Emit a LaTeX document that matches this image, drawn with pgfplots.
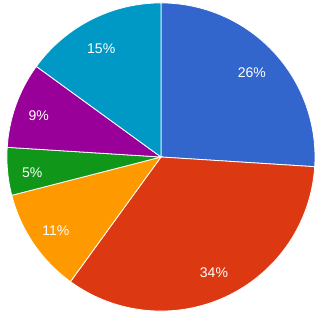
\documentclass[border=0pt]{standalone}
\usepackage{pgfplots}
\pgfplotsset{compat=1.18}
\usepackage{fontspec}
\setmainfont{Liberation Sans}
\definecolor{cA}{HTML}{3366CC}
\definecolor{cB}{HTML}{DC3912}
\definecolor{cC}{HTML}{FF9900}
\definecolor{cD}{HTML}{109618}
\definecolor{cE}{HTML}{990099}
\definecolor{cF}{HTML}{0099C6}
\tikzset{lbl/.style={text=white, font=\fontsize{14}{14}\selectfont, anchor=center, inner sep=0pt}}
% percentages: 26, 34, 11, 5, 9, 15 (3.6 deg per percent, clockwise from top)
\begin{document}
\begin{tikzpicture}
\begin{axis}[
  scale only axis, width=323pt, height=318pt,
  xmin=-1.045, xmax=1.052, ymin=-1.045, ymax=1.019,
  axis lines=none, clip=false,
  slice/.style={draw=white, line width=0.8pt, samples=80, variable=\t},
]
\path (rel axis cs:0,0) rectangle (rel axis cs:1,1);
\addplot[slice, fill=cA, domain={90-3.6*26}:90] ({cos(t)},{sin(t)}) -- (axis cs:0,0) -- cycle;
\addplot[slice, fill=cB, domain={90-3.6*60}:{90-3.6*26}] ({cos(t)},{sin(t)}) -- (axis cs:0,0) -- cycle;
\addplot[slice, fill=cC, domain={90-3.6*71}:{90-3.6*60}] ({cos(t)},{sin(t)}) -- (axis cs:0,0) -- cycle;
\addplot[slice, fill=cD, domain={90-3.6*76}:{90-3.6*71}] ({cos(t)},{sin(t)}) -- (axis cs:0,0) -- cycle;
\addplot[slice, fill=cE, domain={90-3.6*85}:{90-3.6*76}] ({cos(t)},{sin(t)}) -- (axis cs:0,0) -- cycle;
\addplot[slice, fill=cF, domain={90-3.6*100}:{90-3.6*85}] ({cos(t)},{sin(t)}) -- (axis cs:0,0) -- cycle;
\node[lbl] at (axis cs:0.590,0.549) {26\%};
\node[lbl] at (axis cs:0.344,-0.750) {34\%};
\node[lbl] at (axis cs:-0.683,-0.476) {11\%};
\node[lbl] at (axis cs:-0.836,-0.099) {5\%};
\node[lbl] at (axis cs:-0.793,0.271) {9\%};
\node[lbl] at (axis cs:-0.388,0.703) {15\%};
\end{axis}
\end{tikzpicture}
\end{document}
